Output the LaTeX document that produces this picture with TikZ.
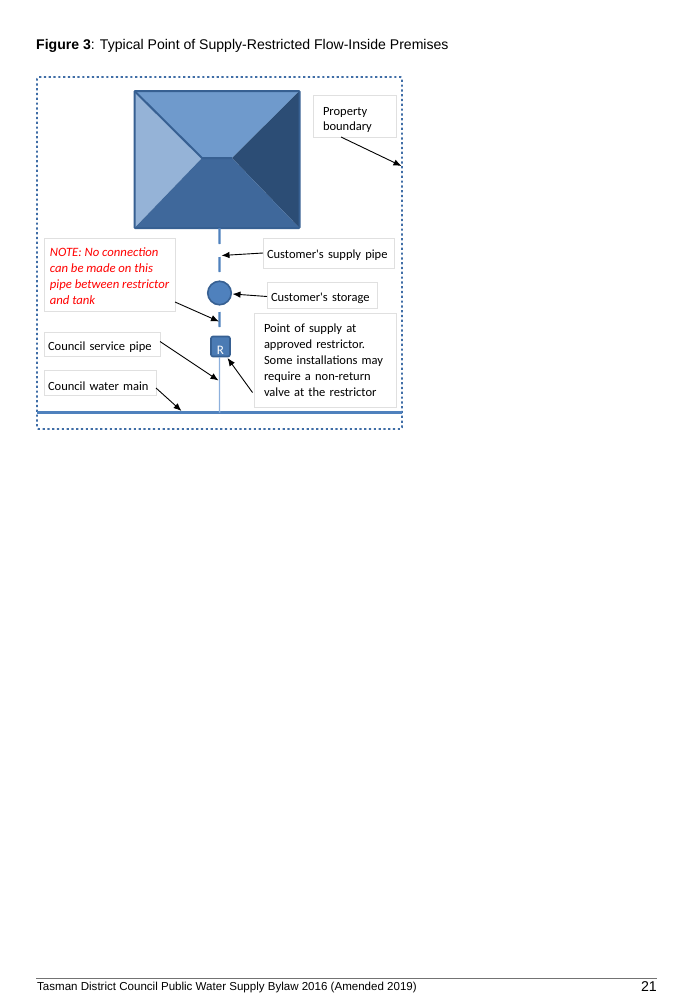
\documentclass[tikz,border=0pt]{standalone}
\usepackage{fontspec}
\setmainfont{Liberation Sans}
\newfontfamily\labelfont{Carlito}
\usetikzlibrary{positioning, arrows.meta, calc}
\definecolor{roofline}{HTML}{376092}
\definecolor{roofleft}{HTML}{95B3D7}
\definecolor{rooftop}{HTML}{6F9ACC}
\definecolor{roofright}{HTML}{2C4D75}
\definecolor{roofbottom}{HTML}{3F689B}
\definecolor{pipeblue}{HTML}{4F81BD}
\definecolor{thinblue}{HTML}{8DB0DC}
\definecolor{dotblue}{HTML}{3F6DA6}
\newcommand{\lblpad}[1]{\rule{0pt}{#1pt}}

\begin{document}
\begin{tikzpicture}[
        x=1pt, y=-1pt,
        lblbox/.style={rectangle, draw=black!12, fill=white, line width=1pt, anchor=north west,
          align=left, font=\fontsize{12.5}{15.8}\selectfont\labelfont, inner xsep=4pt, inner ysep=0pt, outer sep=0pt},
        arrow/.style={-{Latex[length=8pt,width=6.5pt]}, line width=0.9pt, draw=black},
        pipe/.style={draw=pipeblue, line width=2.2pt}
      ]
        \useasboundingbox (0,0) rectangle (689,1004);

        \node[anchor=west, inner sep=0pt, font=\fontsize{14.06}{17}\selectfont] (title) at (36,46) {\textbf{Figure 3}: Typical Point of Supply-Restricted Flow-Inside Premises};

        % property boundary
        \draw[draw=dotblue, line width=1.8pt, dash pattern=on 2.2pt off 2.6pt, rounded corners=1.5pt] (37,77) rectangle (402,429);

        % roof
        \node[rectangle, draw=none, minimum width=165pt, minimum height=137pt, inner sep=0pt, outer sep=0pt] (house) at (217,159.5) {};
        \coordinate (ridgeL) at (202,158);
        \coordinate (ridgeR) at (232,158);
        \fill[rooftop] (house.north west) -- (house.north east) -- (ridgeR) -- (ridgeL) -- cycle;
        \fill[roofleft] (house.north west) -- (ridgeL) -- (house.south west) -- cycle;
        \fill[roofright] (house.north east) -- (ridgeR) -- (house.south east) -- cycle;
        \fill[roofbottom] (house.south west) -- (ridgeL) -- (ridgeR) -- (house.south east) -- cycle;
        \draw[draw=roofline, line width=2pt] (house.north west) -- (ridgeL) -- (ridgeR);
        \draw[draw=roofline, line width=2pt, rounded corners=0.8pt] (house.north west) rectangle (house.south east);

        % labels
        \node[lblbox, minimum height=42pt, text width=63pt, inner xsep=10pt] (propbox) at (313,95) {\lblpad{16}Property\\boundary};
        \node[lblbox, minimum height=73pt, minimum width=131pt, inner xsep=5pt, text=red, font=\fontsize{12.7}{15.8}\selectfont\labelfont\itshape] (notebox) at (44,238) {\lblpad{12}NOTE: No connection\\can be made on this\\pipe between restrictor\\and tank};
        \node[lblbox, minimum height=30pt, text width=123pt] (supplybox) at (263,238) {\lblpad{13}Customer's supply pipe};
        \node[lblbox, minimum height=26pt, text width=102pt] (storagebox) at (267,282) {\lblpad{15}Customer's storage};
        \node[lblbox, minimum height=94pt, text width=122pt, inner xsep=10pt] (pointbox) at (254,313) {\lblpad{9}Point of supply at\\approved restrictor.\\Some installations may\\require a non-return\\valve at the restrictor};
        \node[lblbox, minimum height=24pt, text width=108pt] (servicebox) at (44,332) {\lblpad{15}Council service pipe};
        \node[lblbox, minimum height=25pt, text width=104pt] (mainbox) at (44,370) {\lblpad{17}Council water main};

        % pipes
        \coordinate (pipeA) at (219.5,228);
        \coordinate (pipeB) at (219.6,244);
        \coordinate (pipeC) at (219.5,257);
        \coordinate (pipeD) at (219.6,272);
        \coordinate (pipeE) at (219.5,312);
        \coordinate (pipeF) at (219.6,327);
        \coordinate (mainL) at (37,412.5);
        \coordinate (mainR) at (402,412.5);
        \coordinate (mainT) at (219.6,412.5);
        \draw[pipe] (pipeA) -- (pipeB);
        \draw[pipe] (pipeC) -- (pipeD);
        \draw[pipe] (pipeE) -- (pipeF);
        \draw[draw=pipeblue, line width=2.4pt] (mainL) -- (mainR);

        \node[circle, draw=roofline, fill=pipeblue, line width=1.6pt, minimum size=23.5pt, inner sep=0pt, outer sep=0pt] (tank) at (219.5,293) {};
        \node[rectangle, draw=roofline, fill=pipeblue!75!roofbottom, line width=1.6pt, rounded corners=2pt, minimum width=19pt, minimum height=20pt,
          inner sep=0pt, outer sep=0pt] (rstr) at (220.5,346.5) {};
        \node[inner sep=0pt, text=white, font=\fontsize{13}{13}\selectfont\labelfont] (rstrtxt) at (220.5,350) {R};
        \draw[draw=thinblue, line width=1.3pt] (219.5,357) -- (mainT);

        % leaders
        \coordinate (propS) at (341,137);
        \coordinate (propT) at (401.5,166);
        \coordinate (supplyT) at (221.5,255.5);
        \coordinate (storageT) at (232.5,294);
        \coordinate (noteS) at (175,302);
        \coordinate (noteT) at (219,321.5);
        \coordinate (serviceS) at (160,341.5);
        \coordinate (serviceT) at (218.5,380.5);
        \coordinate (mainS) at (156,388);
        \coordinate (mainE) at (181.5,411);
        \coordinate (pointS) at (252.5,392.5);
        \coordinate (pointT) at (227.5,358);

        \draw[arrow] (propS) -- (propT);
        \draw[arrow] (supplybox.west |- 0,253) -- (supplyT);
        \draw[arrow] (storagebox.west |- 0,296.5) -- (storageT);
        \draw[arrow] (noteS) -- (noteT);
        \draw[arrow] (serviceS) -- (serviceT);
        \draw[arrow] (mainS) -- (mainE);
        \draw[arrow] (pointS) -- (pointT);

        % page foot
        \draw[draw=black!55, line width=0.9pt] (36,978.5) -- (657,978.5);
        \node[anchor=west, inner sep=0pt, font=\fontsize{11.55}{14}\selectfont] (foot) at (37,987.5) {Tasman District Council Public Water Supply Bylaw 2016 (Amended 2019)};
        \node[anchor=east, inner sep=0pt, font=\fontsize{14.2}{14}\selectfont] (pagenum) at (657,987) {21};
      \end{tikzpicture}
\end{document}
